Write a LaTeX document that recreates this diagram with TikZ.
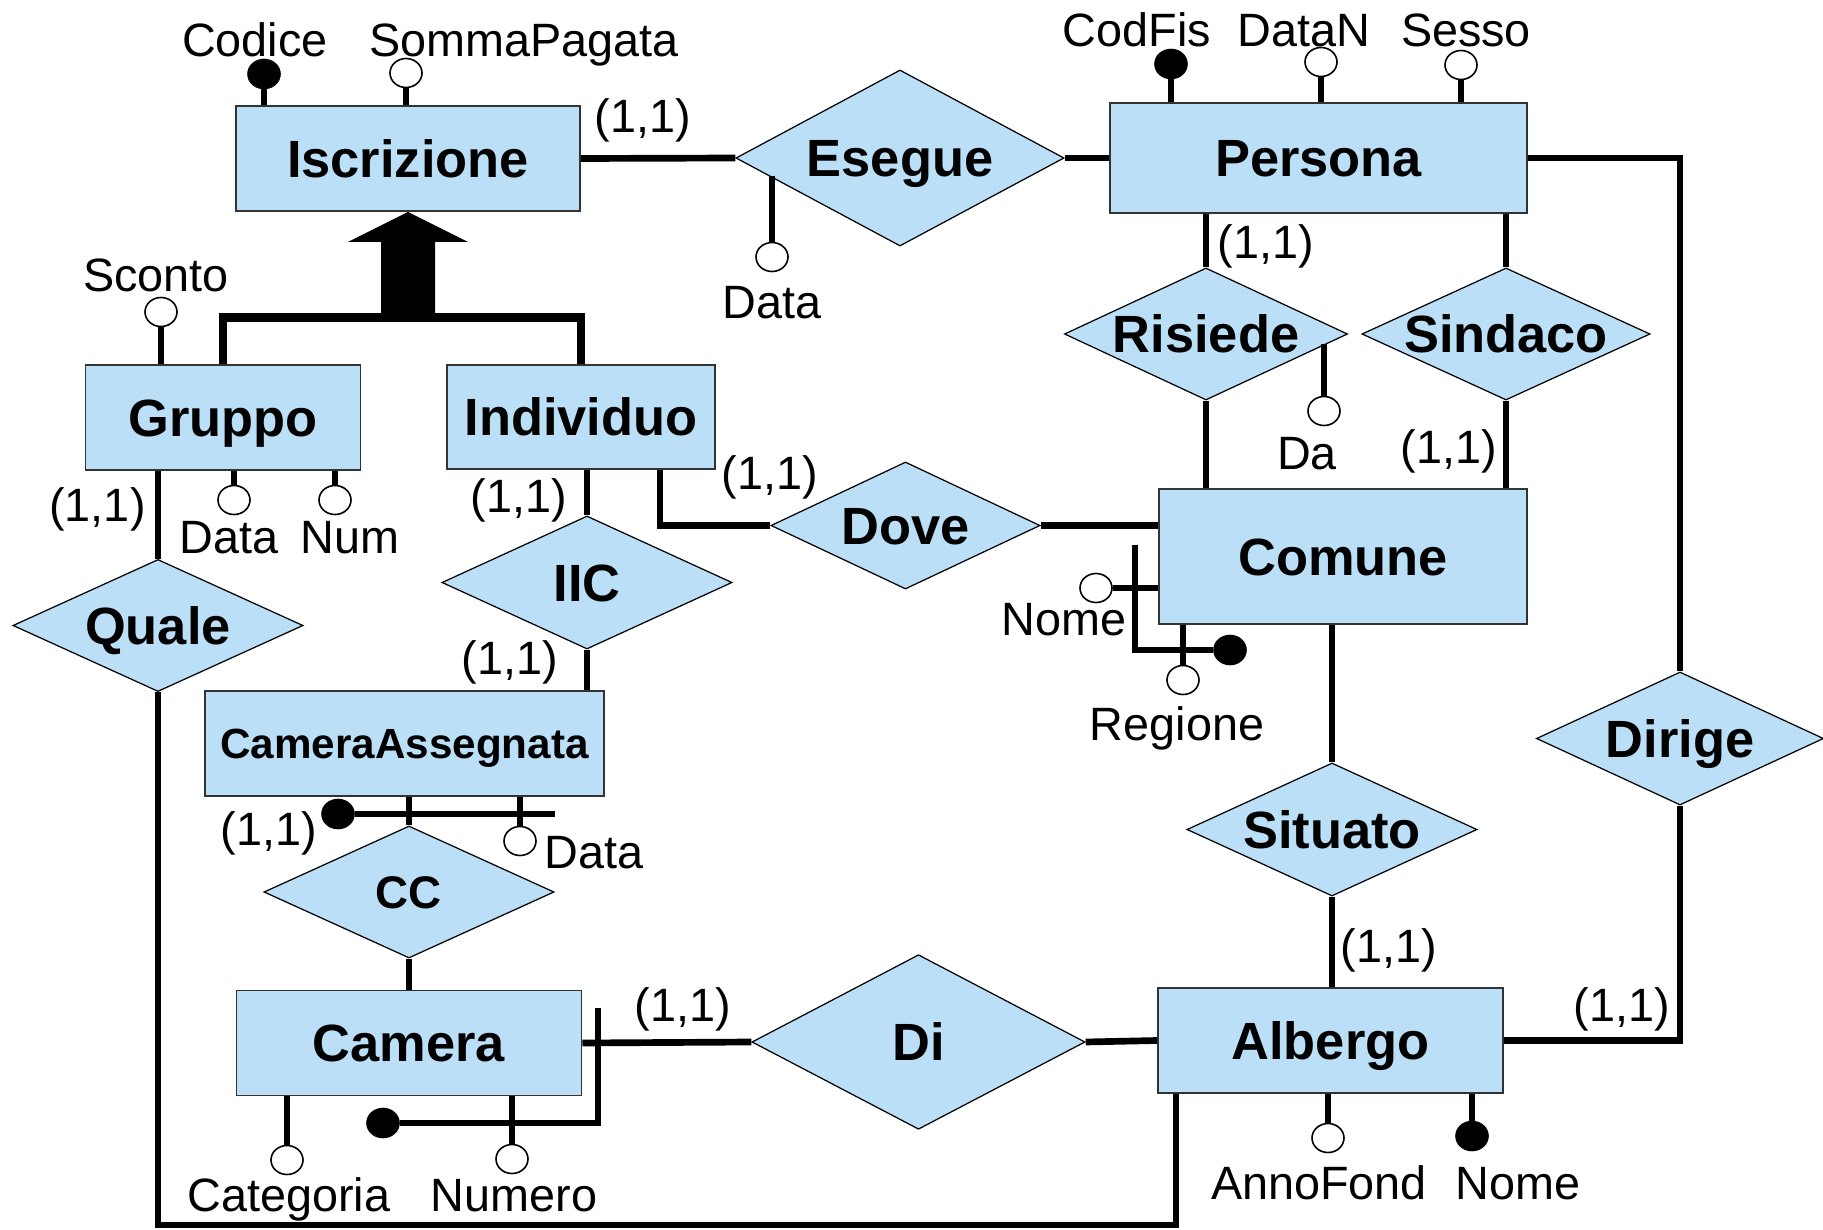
\documentclass[tikz,border=0pt]{standalone}
\usepackage{fontspec}
\setmainfont{Liberation Sans}
\usepackage{tikz}
\usetikzlibrary{shapes.geometric, calc}
\definecolor{erblue}{RGB}{187,223,247}

\begin{document}
\begin{tikzpicture}[x=0.01cm, y=-0.01cm,
    entity/.style={rectangle, draw=black!80, line width=0.5pt, fill=erblue, inner sep=0pt, text height=10.7pt, text depth=0pt, font=\fontsize{14.9}{16}\selectfont\bfseries},
    relation/.style={diamond, draw=black, line width=0.35pt, fill=erblue, inner sep=0pt, aspect=2.18, text height=10.7pt, text depth=0pt, font=\fontsize{14.9}{16}\selectfont\bfseries},
    attr/.style={ellipse, draw=black, line width=0.45pt, fill=white, inner sep=0pt, minimum width=0.32cm, minimum height=0.29cm},
    keyattr/.style={attr, fill=black},
    lbl/.style={inner sep=0pt, anchor=base, font=\fontsize{13.3}{15}\selectfont},
    card/.style={inner sep=0pt, font=\fontsize{13.3}{15}\selectfont},
    link/.style={line width=1.9pt},
    isa/.style={line width=2.35pt}
]
    \useasboundingbox (0,0) rectangle (1823,1230);

    % Entities
    \node[entity, minimum width=3.44cm, minimum height=1.05cm] (iscr) at (408,158.5) {Iscrizione};
    \node[entity, minimum width=4.17cm, minimum height=1.10cm] (persona) at (1318.5,158) {Persona};
    \node[entity, minimum width=2.75cm, minimum height=1.045cm] (gruppo) at (223,417.5) {Gruppo};
    \node[entity, minimum width=2.68cm, minimum height=1.045cm] (indiv) at (581,417) {Individuo};
    \node[entity, minimum width=3.68cm, minimum height=1.35cm] (comune) at (1343,556.5) {Comune};
    \node[entity, minimum width=3.99cm, minimum height=1.05cm, text height=8.6pt, font=\fontsize{12}{14}\selectfont\bfseries] (ca) at (404.5,743.5) {CameraAssegnata};
    \node[entity, minimum width=3.45cm, minimum height=1.05cm] (camera) at (409,1043) {Camera};
    \node[entity, minimum width=3.45cm, minimum height=1.05cm] (albergo) at (1330.5,1040.5) {Albergo};

    % Relationships
    \node[relation, aspect=1.86, minimum width=3.28cm, minimum height=1.76cm] (esegue) at (900,158) {Esegue};
    \node[relation, minimum width=2.83cm, minimum height=1.32cm] (risiede) at (1206,334) {Risiede};
    \node[relation, minimum width=2.88cm, minimum height=1.32cm] (sindaco) at (1506,334) {Sindaco};
    \node[relation, minimum width=2.69cm, minimum height=1.27cm] (dove) at (905.5,525.5) {Dove};
    \node[relation, minimum width=2.90cm, minimum height=1.33cm] (iic) at (587,582.5) {IIC};
    \node[relation, minimum width=2.90cm, minimum height=1.32cm] (quale) at (158,625.5) {Quale};
    \node[relation, minimum width=2.90cm, minimum height=1.32cm, text height=9.3pt, font=\fontsize{13}{15}\selectfont\bfseries] (cc) at (409,892) {CC};
    \node[relation, aspect=1.91, minimum width=3.33cm, minimum height=1.745cm] (di) at (918.5,1042) {Di};
    \node[relation, minimum width=2.90cm, minimum height=1.33cm] (situato) at (1332,829.5) {Situato};
    \node[relation, minimum width=2.87cm, minimum height=1.33cm] (dirige) at (1680,738.5) {Dirige};

    % Attributes
    \node[keyattr] (kCodice) at (264,74) {};
    \node[attr] (aSomma) at (406,73) {};
    \node[attr] (aSconto) at (161,312) {};
    \node[attr] (aGrData) at (234,500) {};
    \node[attr] (aGrNum) at (335,500) {};
    \node[attr] (aEsData) at (772,257) {};
    \node[keyattr] (kCodFis) at (1171,64) {};
    \node[attr] (aDataN) at (1321,62) {};
    \node[attr] (aSesso) at (1461,65) {};
    \node[attr] (aDa) at (1324,411) {};
    \node[attr] (aComNome) at (1096,588) {};
    \node[keyattr] (kComune) at (1230,650) {};
    \node[attr] (aRegione) at (1183,680) {};
    \node[keyattr] (kCA) at (338,814) {};
    \node[attr] (aCAData) at (520,841) {};
    \node[attr] (aCategoria) at (287,1160) {};
    \node[attr] (aNumero) at (512,1159) {};
    \node[keyattr] (kCamera) at (383,1123) {};
    \node[attr] (aAnno) at (1328,1138) {};
    \node[keyattr] (kAlbNome) at (1472,1136) {};

    % Attribute names
    \node[lbl] (lCodice) at (255,57) {Codice};
    \node[lbl] (lSomma) at (524,57) {SommaPagata};
    \node[lbl] (lSconto) at (156,291) {Sconto};
    \node[lbl] (lGrData) at (229,553) {Data};
    \node[lbl] (lGrNum) at (350,553) {Num};
    \node[lbl] (lEsData) at (772,318) {Data};
    \node[lbl] (lCodFis) at (1137,46) {CodFis};
    \node[lbl] (lDataN) at (1304,46) {DataN};
    \node[lbl] (lSesso) at (1466,46) {Sesso};
    \node[lbl] (lDa) at (1307,469) {Da};
    \node[lbl] (lComNome) at (1064,635) {Nome};
    \node[lbl] (lRegione) at (1177,740) {Regione};
    \node[lbl] (lCAData) at (594,868) {Data};
    \node[lbl] (lCategoria) at (289,1211) {Categoria};
    \node[lbl] (lNumero) at (514,1211) {Numero};
    \node[lbl] (lAnno) at (1319,1199) {AnnoFond};
    \node[lbl] (lAlbNome) at (1518,1199) {Nome};

    % Cardinalities
    \node[card] (cIscr) at (643,120) {(1,1)};
    \node[card] (cGruppo) at (97.5,509) {(1,1)};
    \node[card] (cIndIIC) at (519,500) {(1,1)};
    \node[card] (cIndDove) at (770,477) {(1,1)};
    \node[card] (cCA) at (510,662) {(1,1)};
    \node[card] (cCACC) at (269,833) {(1,1)};
    \node[card] (cCamera) at (683,1009) {(1,1)};
    \node[card] (cAlbSit) at (1389,950) {(1,1)};
    \node[card] (cAlbDir) at (1622,1009) {(1,1)};
    \node[card] (cPersona) at (1266,246) {(1,1)};
    \node[card] (cComune) at (1449,451) {(1,1)};

    % Generalization
    \fill (iscr.south) -- ++(60,30) -- ++(-33,0) -- ++(0,76) -- ++(-54,0) -- ++(0,-76) -- ++(-33,0) -- cycle;
    \coordinate (isajoin) at (408,317.5);
    \draw[isa] (gruppo.north) -- (gruppo.north |- isajoin) -- (indiv.north |- isajoin) -- (indiv.north);

    % Links
    \draw[link] (iscr.east) -- (esegue.west);
    \draw[link] (esegue.east) -- (persona.west);
    \draw[link] (persona.east) -| (dirige.north);
    \draw[link] (risiede.north) -- (risiede.north |- persona.south);
    \draw[link] (sindaco.north) -- (sindaco.north |- persona.south);
    \draw[link] (risiede.south) -- (risiede.south |- comune.north);
    \draw[link] (sindaco.south) -- (sindaco.south |- comune.north);
    \draw[link] (quale.north) -- (quale.north |- gruppo.south);
    \draw[link] (iic.north) -- (iic.north |- indiv.south);
    \draw[link] ([xshift=0.79cm]indiv.south) |- (dove.west);
    \draw[link] (dove.east) -- (dove.east -| comune.west);
    \draw[link] (iic.south) -- (iic.south |- ca.north);
    \draw[link] (cc.north) -- (cc.north |- ca.south);
    \draw[link] (cc.south) -- (cc.south |- camera.north);
    \draw[link] (camera.east) -- (di.west);
    \draw[link] (di.east) -- (albergo.west);
    \draw[link] (situato.north) -- (situato.north |- comune.south);
    \draw[link] (situato.south) -- (situato.south |- albergo.north);
    \draw[link] (albergo.east) -| (dirige.south);
    \coordinate (lowline) at (0,1225);
    \draw[link] (quale.south) |- ([xshift=0.19cm]albergo.south west |- lowline) -- ([xshift=0.19cm]albergo.south west);

    % Attribute stems
    \draw[link] (kCodice) -- (kCodice |- iscr.north);
    \draw[link] (aSomma) -- (aSomma |- iscr.north);
    \draw[link] (aSconto) -- (aSconto |- gruppo.north);
    \draw[link] (aGrData) -- (aGrData |- gruppo.south);
    \draw[link] (aGrNum) -- (aGrNum |- gruppo.south);
    \draw[link] (aEsData) -- (aEsData |- esegue.188);
    \draw[link] (kCodFis) -- (kCodFis |- persona.north);
    \draw[link] (aDataN) -- (aDataN |- persona.north);
    \draw[link] (aSesso) -- (aSesso |- persona.north);
    \draw[link] (aDa) -- (aDa |- risiede.355);
    \draw[link] (aComNome) -- (aComNome -| comune.west);
    \draw[link] (aRegione) -- (aRegione |- comune.south);
    \coordinate (comIdTop) at (1135,545);
    \draw[link] (comIdTop) |- (kComune);
    \draw[link] (aCAData) -- (aCAData |- ca.south);
    \coordinate (caIdEnd) at (555,814);
    \draw[link] (kCA) -- (caIdEnd);
    \draw[link] (aCategoria) -- (aCategoria |- camera.south);
    \draw[link] (aNumero) -- (aNumero |- camera.south);
    \coordinate (camIdTop) at (598,1008);
    \draw[link] (camIdTop) |- (kCamera);
    \draw[link] (aAnno) -- (aAnno |- albergo.south);
    \draw[link] (kAlbNome) -- (kAlbNome |- albergo.south);

\end{tikzpicture}
\end{document}
